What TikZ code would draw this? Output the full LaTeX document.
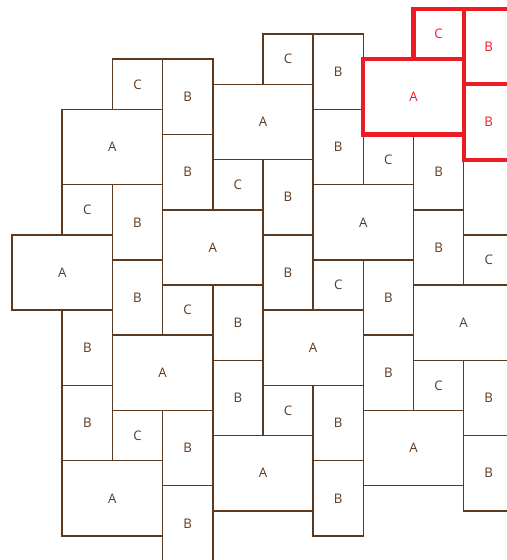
\documentclass[tikz,border=0pt]{standalone}
\usepackage{fontspec}
\setsansfont{Open Sans}
\definecolor{tilebrown}{RGB}{92,58,32}
\definecolor{tilered}{RGB}{237,28,36}
\tikzset{
	tile/.style = {draw = tilebrown, line width = 0.85pt, text = tilebrown, anchor = north west,
		inner sep = 0pt, outer sep = 0pt, font = \sffamily\fontsize{7.5}{9}\selectfont},
	tilea/.style = {tile, minimum width = 2cm, minimum height = 1.5cm},
	tileb/.style = {tile, minimum width = 1cm, minimum height = 1.5cm},
	tilec/.style = {tile, minimum width = 1cm, minimum height = 1cm},
	marked/.style = {draw = tilered, text = tilered, line width = 2.3pt}
}
\begin{document}
\begin{tikzpicture}[x = 1cm, y = 0.5cm]
	\clip (-0.24, 0.36) rectangle (9.86, -21.96);
	% large tiles
	\foreach \c/\r [count = \i] in {1/4, 4/3, 6/7, 3/8, 0/9, 2/13, 1/18, 4/17, 5/12, 8/11, 7/16}
		\node [tilea] (a\i) at (\c, -\r) {A};
	% tall tiles
	\foreach \c/\r [count = \i] in {3/2, 3/5, 6/1, 6/4, 8/5, 8/8, 5/6, 5/9, 2/7, 2/10, 4/11,
		1/12, 1/15, 4/14, 3/16, 3/19, 6/15, 6/18, 7/10, 7/13, 9/14, 9/17}
		\node [tileb] (b\i) at (\c, -\r) {B};
	% small tiles
	\foreach \c/\r [count = \i] in {2/2, 4/6, 5/1, 7/5, 9/9, 1/7, 3/11, 2/16, 6/10, 8/14, 5/15}
		\node [tilec] (c\i) at (\c, -\r) {C};
	% marked group
	\node [tilea, marked] (ared) at (7, -2) {A};
	\node [tilec, marked] (cred) at (8, 0) {C};
	\node [tileb, marked] (bred1) at (9, 0) {B};
	\node [tileb, marked] (bred2) at (9, -3) {B};
\end{tikzpicture}
\end{document}
